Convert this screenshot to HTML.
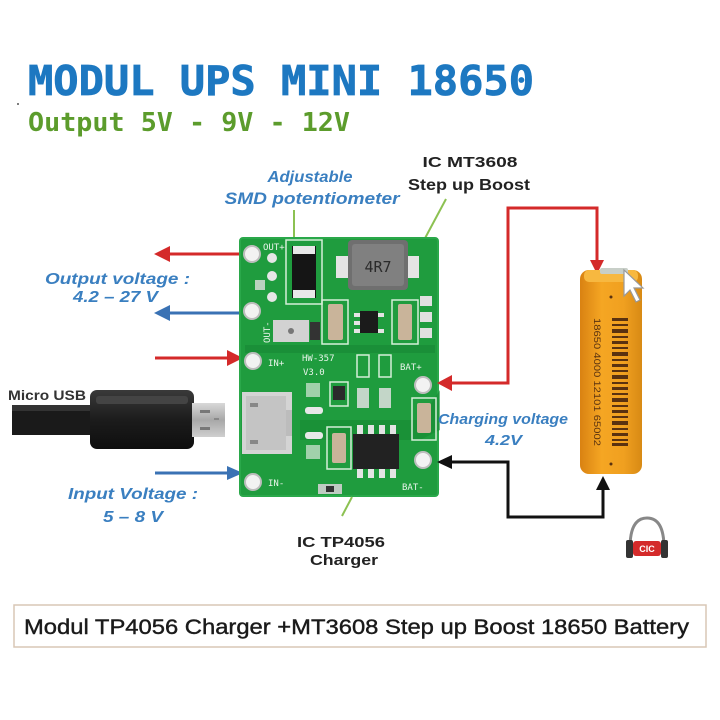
<!DOCTYPE html>
<html>
<head>
<meta charset="utf-8">
<style>
html,body{margin:0;padding:0;background:#fff;}
svg{display:block;}
.lbl{font-family:"Liberation Sans",sans-serif;font-weight:bold;font-style:italic;fill:#3a7fc0;}
.blk{font-family:"Liberation Sans",sans-serif;font-weight:bold;fill:#222;}
.silk{font-family:"DejaVu Sans Mono","Liberation Mono",monospace;fill:#e8f4ea;font-size:9px;}
</style>
</head>
<body>
<svg width="720" height="720" viewBox="0 0 720 720" xmlns="http://www.w3.org/2000/svg">
<defs>
  <linearGradient id="bat" x1="0" x2="1" y1="0" y2="0">
    <stop offset="0" stop-color="#d98212"/>
    <stop offset="0.35" stop-color="#f5a623"/>
    <stop offset="0.7" stop-color="#f0a020"/>
    <stop offset="1" stop-color="#d88a14"/>
  </linearGradient>
  <linearGradient id="usb" x1="0" x2="0" y1="0" y2="1">
    <stop offset="0" stop-color="#3a3a3a"/>
    <stop offset="0.5" stop-color="#1c1c1c"/>
    <stop offset="1" stop-color="#0e0e0e"/>
  </linearGradient>
  <linearGradient id="plug" x1="0" x2="0" y1="0" y2="1">
    <stop offset="0" stop-color="#d8d8d8"/>
    <stop offset="0.5" stop-color="#a8a8a8"/>
    <stop offset="1" stop-color="#cfcfcf"/>
  </linearGradient>
</defs>

<!-- Title -->
<text x="28" y="95" font-family="'DejaVu Sans Mono',monospace" font-weight="bold" font-size="41" fill="#1d78c1" stroke="#1d78c1" stroke-width="0.8" textLength="506" lengthAdjust="spacingAndGlyphs">MODUL UPS MINI 18650</text>
<text x="28" y="131" font-family="'DejaVu Sans Mono',monospace" font-weight="bold" font-size="26" fill="#5c9c2c" textLength="322" lengthAdjust="spacingAndGlyphs">Output 5V - 9V - 12V</text>
<circle cx="18" cy="104" r="1" fill="#555"/>

<!-- Top labels -->
<text class="lbl" x="310" y="182" font-size="16" text-anchor="middle" textLength="85" lengthAdjust="spacingAndGlyphs">Adjustable</text>
<text class="lbl" x="312" y="204" font-size="17" text-anchor="middle" textLength="175" lengthAdjust="spacingAndGlyphs">SMD potentiometer</text>
<line x1="294" y1="210" x2="294" y2="242" stroke="#8cc152" stroke-width="2"/>

<text class="blk" x="470" y="167" font-size="15" text-anchor="middle" textLength="95" lengthAdjust="spacingAndGlyphs">IC MT3608</text>
<text class="blk" x="469" y="190" font-size="16" text-anchor="middle" textLength="122" lengthAdjust="spacingAndGlyphs">Step up Boost</text>
<line x1="446" y1="199" x2="423" y2="242" stroke="#8cc152" stroke-width="2"/>

<!-- Left labels -->
<text class="lbl" x="45" y="284" font-size="16" textLength="145" lengthAdjust="spacingAndGlyphs">Output voltage :</text>
<text class="lbl" x="73" y="302" font-size="16" textLength="85" lengthAdjust="spacingAndGlyphs">4.2 – 27 V</text>
<text class="lbl" x="68" y="499" font-size="16" textLength="130" lengthAdjust="spacingAndGlyphs">Input Voltage :</text>
<text class="lbl" x="103" y="522" font-size="16" textLength="60" lengthAdjust="spacingAndGlyphs">5 – 8 V</text>

<!-- Left arrows -->
<line x1="168" y1="254" x2="242" y2="254" stroke="#d42a2a" stroke-width="3"/>
<polygon points="154,254 170,246 170,262" fill="#d42a2a"/>
<line x1="168" y1="313" x2="242" y2="313" stroke="#3a72b4" stroke-width="3"/>
<polygon points="154,313 170,305 170,321" fill="#3a72b4"/>
<line x1="155" y1="358" x2="228" y2="358" stroke="#d42a2a" stroke-width="3"/>
<polygon points="243,358 227,350 227,366" fill="#d42a2a"/>
<line x1="155" y1="473" x2="228" y2="473" stroke="#3a72b4" stroke-width="3"/>
<polygon points="243,473 227,466 227,480" fill="#3a72b4"/>

<!-- Micro USB cable -->
<text x="8" y="400" font-family="'Liberation Sans',sans-serif" font-weight="bold" font-size="14" fill="#333" textLength="78" lengthAdjust="spacingAndGlyphs">Micro USB</text>
<rect x="12" y="405" width="84" height="30" fill="#1a1a1a"/>
<rect x="12" y="405" width="84" height="6" fill="#333"/>
<rect x="90" y="390" width="104" height="59" rx="7" fill="url(#usb)"/>
<rect x="96" y="396" width="92" height="8" rx="3" fill="#444"/>
<rect x="192" y="403" width="33" height="34" fill="url(#plug)"/>
<rect x="200" y="410" width="10" height="3" fill="#777"/>
<rect x="200" y="427" width="10" height="3" fill="#777"/>
<rect x="214" y="418" width="5" height="2" fill="#888"/>

<!-- PCB -->
<rect x="240" y="238" width="198" height="258" rx="3" fill="#1f9c3e"/>
<rect x="240" y="238" width="198" height="258" rx="3" fill="none" stroke="#2aa84a" stroke-width="2"/>
<path d="M300 420 L420 420 L440 390 L440 430 L420 440 L300 440 Z" fill="#188a34" opacity="0.6"/>
<rect x="245" y="345" width="190" height="8" fill="#1a8f38"/>
<rect x="286" y="240" width="36" height="64" fill="none" stroke="#d5eed8" stroke-width="1.5"/>
<rect x="292" y="246" width="24" height="52" fill="#151515"/>
<rect x="293" y="246" width="22" height="8" fill="#e8e8e8"/>
<rect x="293" y="290" width="22" height="8" fill="#e8e8e8"/>
<!-- inductor -->
<rect x="336" y="256" width="12" height="22" fill="#e4e4e4"/>
<rect x="407" y="256" width="12" height="22" fill="#e4e4e4"/>
<rect x="348" y="240" width="60" height="50" rx="4" fill="#6f6f6f"/>
<rect x="352" y="244" width="52" height="42" rx="3" fill="#808080"/>
<text x="378" y="272" font-family="'DejaVu Sans Mono',monospace" font-size="15" fill="#2a2a2a" text-anchor="middle">4R7</text>
<circle cx="272" cy="258" r="5" fill="#e6e6e6"/>
<circle cx="272" cy="276" r="5" fill="#e6e6e6"/>
<circle cx="272" cy="297" r="5" fill="#e6e6e6"/>
<rect x="255" y="280" width="10" height="10" fill="#e0e0e0" opacity="0.8"/>
<text class="silk" x="263" y="250">OUT+</text>
<text class="silk" x="0" y="0" transform="translate(270,343) rotate(-90)">OUT-</text>
<!-- potentiometer -->
<rect x="273" y="320" width="36" height="22" fill="#d2d2d2"/>
<circle cx="291" cy="331" r="3" fill="#777"/>
<rect x="310" y="322" width="10" height="18" fill="#333"/>
<rect x="322" y="300" width="26" height="44" fill="none" stroke="#d5eed8" stroke-width="1.5"/>
<rect x="328" y="304" width="15" height="36" rx="2" fill="#c9b49a"/>
<rect x="392" y="300" width="26" height="44" fill="none" stroke="#d5eed8" stroke-width="1.5"/>
<rect x="398" y="304" width="14" height="36" rx="2" fill="#c9b49a"/>
<!-- MT3608 -->
<rect x="354" y="313" width="6" height="4" fill="#e4e4e4"/>
<rect x="354" y="321" width="6" height="4" fill="#e4e4e4"/>
<rect x="354" y="329" width="6" height="4" fill="#e4e4e4"/>
<rect x="378" y="313" width="6" height="4" fill="#e4e4e4"/>
<rect x="378" y="329" width="6" height="4" fill="#e4e4e4"/>
<rect x="360" y="311" width="18" height="22" fill="#1b1b1b"/>
<rect x="420" y="296" width="12" height="10" fill="#e0e0e0"/>
<rect x="420" y="312" width="12" height="10" fill="#e0e0e0"/>
<rect x="420" y="328" width="12" height="10" fill="#e0e0e0"/>
<!-- pads -->
<circle cx="252" cy="254" r="8" fill="#f2f2f2" stroke="#bdbdbd" stroke-width="2"/>
<circle cx="252" cy="311" r="8" fill="#f2f2f2" stroke="#bdbdbd" stroke-width="2"/>
<circle cx="253" cy="361" r="8" fill="#f2f2f2" stroke="#bdbdbd" stroke-width="2"/>
<circle cx="253" cy="482" r="8" fill="#f2f2f2" stroke="#bdbdbd" stroke-width="2"/>
<circle cx="423" cy="385" r="8" fill="#f2f2f2" stroke="#bdbdbd" stroke-width="2"/>
<circle cx="423" cy="460" r="8" fill="#f2f2f2" stroke="#bdbdbd" stroke-width="2"/>
<text class="silk" x="268" y="366" font-size="10">IN+</text>
<text class="silk" x="302" y="361" font-size="9">HW-357</text>
<text class="silk" x="303" y="375" font-size="7">V3.0</text>
<text class="silk" x="400" y="370" font-size="10">BAT+</text>
<text class="silk" x="268" y="486" font-size="10">IN-</text>
<text class="silk" x="402" y="490" font-size="10">BAT-</text>
<rect x="357" y="355" width="12" height="22" fill="none" stroke="#d5eed8" stroke-width="1.5"/>
<rect x="379" y="355" width="12" height="22" fill="none" stroke="#d5eed8" stroke-width="1.5"/>
<rect x="330" y="382" width="18" height="24" fill="none" stroke="#d5eed8" stroke-width="1.5"/>
<rect x="333" y="386" width="12" height="14" fill="#2b2b2b"/>
<rect x="357" y="388" width="12" height="20" fill="#e0e0e0" opacity="0.85"/>
<rect x="379" y="388" width="12" height="20" fill="#e0e0e0" opacity="0.85"/>
<rect x="306" y="383" width="14" height="14" fill="#d8e8da" opacity="0.7"/>
<rect x="306" y="445" width="14" height="14" fill="#d8e8da" opacity="0.7"/>
<rect x="305" y="407" width="18" height="7" rx="3" fill="#e8e8e8"/>
<rect x="305" y="432" width="18" height="7" rx="3" fill="#e8e8e8"/>
<!-- micro USB port -->
<rect x="242" y="392" width="50" height="62" fill="#d4d4d4"/>
<rect x="246" y="396" width="40" height="54" fill="#c4c4c4"/>
<rect x="250" y="403" width="8" height="4" fill="#888"/>
<rect x="250" y="440" width="8" height="4" fill="#888"/>
<rect x="286" y="410" width="6" height="26" fill="#bcbcbc"/>
<rect x="327" y="427" width="24" height="42" fill="none" stroke="#d5eed8" stroke-width="1.5"/>
<rect x="332" y="433" width="14" height="30" rx="2" fill="#c9b49a"/>
<rect x="412" y="398" width="24" height="42" fill="none" stroke="#d5eed8" stroke-width="1.5"/>
<rect x="417" y="403" width="14" height="30" rx="2" fill="#c9b49a"/>
<!-- TP4056 -->
<rect x="357" y="425" width="6" height="9" fill="#e4e4e4"/>
<rect x="368" y="425" width="6" height="9" fill="#e4e4e4"/>
<rect x="379" y="425" width="6" height="9" fill="#e4e4e4"/>
<rect x="390" y="425" width="6" height="9" fill="#e4e4e4"/>
<rect x="357" y="469" width="6" height="9" fill="#e4e4e4"/>
<rect x="368" y="469" width="6" height="9" fill="#e4e4e4"/>
<rect x="379" y="469" width="6" height="9" fill="#e4e4e4"/>
<rect x="390" y="469" width="6" height="9" fill="#e4e4e4"/>
<rect x="353" y="434" width="46" height="35" fill="#222"/>
<rect x="318" y="484" width="24" height="10" fill="#d0d0d0" opacity="0.9"/>
<rect x="326" y="486" width="8" height="6" fill="#333"/>

<!-- TP4056 label -->
<line x1="352" y1="497" x2="342" y2="516" stroke="#8cc152" stroke-width="2"/>
<text class="blk" x="341" y="547" font-size="15" text-anchor="middle" textLength="88" lengthAdjust="spacingAndGlyphs">IC TP4056</text>
<text class="blk" x="344" y="565" font-size="15" text-anchor="middle" textLength="68" lengthAdjust="spacingAndGlyphs">Charger</text>

<!-- Right connectors -->
<polyline points="450,383 508,383 508,208 597,208 597,262" fill="none" stroke="#d42a2a" stroke-width="3"/>
<polygon points="437,383 452,375 452,391" fill="#d42a2a"/>
<polygon points="597,274 590,260 604,260" fill="#d42a2a"/>
<polyline points="450,462 508,462 508,517 603,517 603,490" fill="none" stroke="#111" stroke-width="3"/>
<polygon points="437,462 452,455 452,469" fill="#111"/>
<polygon points="603,476 596,490 610,490" fill="#111"/>

<text class="lbl" x="438" y="424" font-size="15" textLength="130" lengthAdjust="spacingAndGlyphs">Charging voltage</text>
<text class="lbl" x="485" y="445" font-size="15" textLength="37" lengthAdjust="spacingAndGlyphs">4.2V</text>

<!-- Battery -->
<rect x="580" y="270" width="62" height="204" rx="9" fill="url(#bat)"/>
<rect x="584" y="270" width="54" height="12" rx="5" fill="#f7b840"/>
<rect x="600" y="268" width="28" height="6" rx="2" fill="#c8cfc8"/>
<g fill="#5a3210">
  <rect x="612" y="318" width="16" height="3"/>
  <rect x="612" y="324" width="16" height="2"/>
  <rect x="612" y="329" width="16" height="4"/>
  <rect x="612" y="336" width="16" height="2"/>
  <rect x="612" y="341" width="16" height="3"/>
  <rect x="612" y="347" width="16" height="2"/>
  <rect x="612" y="352" width="16" height="4"/>
  <rect x="612" y="359" width="16" height="2"/>
  <rect x="612" y="364" width="16" height="3"/>
  <rect x="612" y="370" width="16" height="2"/>
  <rect x="612" y="375" width="16" height="4"/>
  <rect x="612" y="382" width="16" height="2"/>
  <rect x="612" y="387" width="16" height="3"/>
  <rect x="612" y="393" width="16" height="2"/>
  <rect x="612" y="398" width="16" height="4"/>
  <rect x="612" y="405" width="16" height="2"/>
  <rect x="612" y="410" width="16" height="3"/>
  <rect x="612" y="416" width="16" height="2"/>
  <rect x="612" y="421" width="16" height="4"/>
  <rect x="612" y="428" width="16" height="2"/>
  <rect x="612" y="433" width="16" height="3"/>
  <rect x="612" y="439" width="16" height="2"/>
  <rect x="612" y="443" width="16" height="3"/>
</g>
<text x="0" y="0" transform="translate(594,318) rotate(90)" font-family="'Liberation Sans',sans-serif" font-size="9" fill="#5a3210" textLength="128" lengthAdjust="spacingAndGlyphs">18650 4000 12101 65002</text>
<circle cx="611" cy="297" r="1.5" fill="#5a3210"/>
<circle cx="611" cy="464" r="1.5" fill="#5a3210"/>
<path d="M624 270 L624 296 L630 290 L636 302 L640 300 L634 288 L643 288 Z" fill="#fff" stroke="#999" stroke-width="1.2"/>

<!-- Headphone logo -->
<path d="M630 548 Q630 518 647 518 Q664 518 664 548" fill="none" stroke="#888" stroke-width="3"/>
<rect x="626" y="540" width="7" height="18" rx="2" fill="#333"/>
<rect x="661" y="540" width="7" height="18" rx="2" fill="#333"/>
<rect x="633" y="541" width="28" height="15" rx="3" fill="#d42a2a"/>
<text x="647" y="552" font-family="'Liberation Sans',sans-serif" font-weight="bold" font-size="9" fill="#fff" text-anchor="middle">CIC</text>

<!-- Bottom caption -->
<rect x="14" y="605" width="692" height="42" fill="#fff" stroke="#d9c7b5" stroke-width="1.5"/>
<text x="24" y="634" font-family="'Liberation Sans',sans-serif" font-size="21" fill="#1a1a1a" stroke="#1a1a1a" stroke-width="0.4" textLength="665" lengthAdjust="spacingAndGlyphs">Modul TP4056 Charger +MT3608 Step up Boost 18650 Battery</text>
</svg>
</body>
</html>
